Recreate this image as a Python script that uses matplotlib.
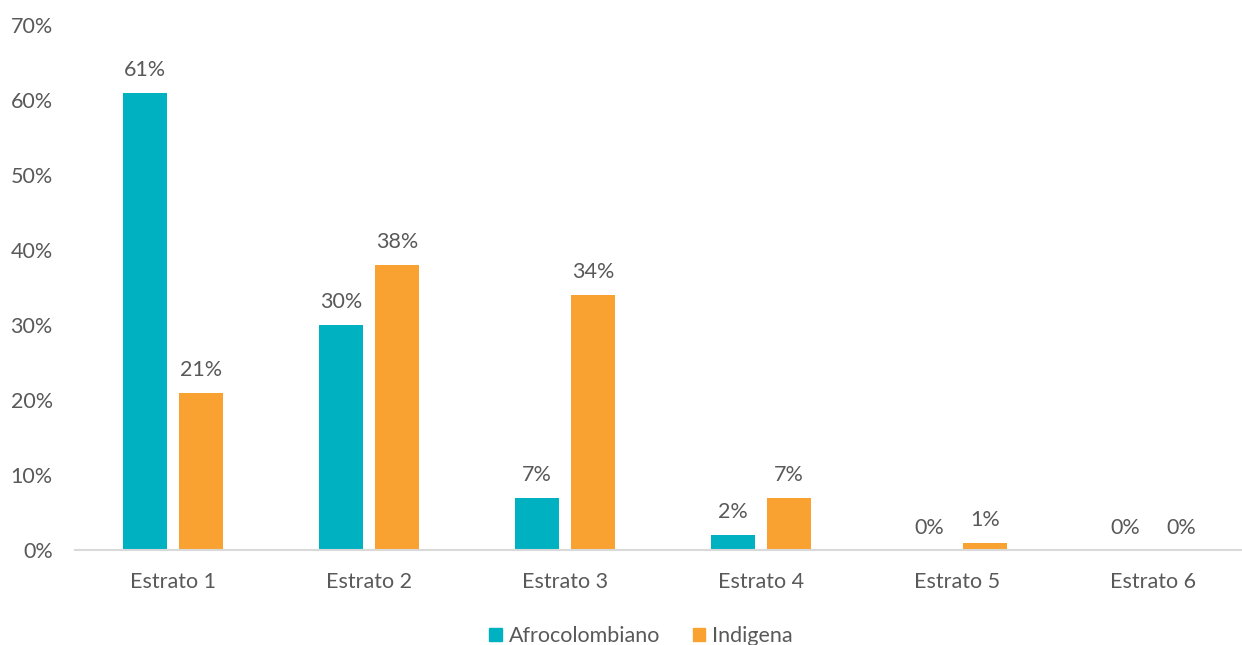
import numpy as np
import matplotlib.pyplot as plt
from matplotlib.patches import Patch

estratos = ['Estrato 1', 'Estrato 2', 'Estrato 3', 'Estrato 4', 'Estrato 5', 'Estrato 6']
afro = [61, 30, 7, 2, 0, 0]
indigena = [21, 38, 34, 7, 1, 0]
series_names = ['Afrocolombiano', 'Indigena']

color_afro = '#00B1C1'
color_ind = '#F9A131'
gris = '#595959'
tam = 15.5

plt.rcParams['font.family'] = ['Lato', 'DejaVu Sans']

fig = plt.figure(figsize=(12.42, 6.45), dpi=100)
ax = fig.add_axes([75 / 1242, 1 - 550 / 645, 1 - 75 / 1242, 525 / 645])

x = np.arange(len(estratos))
ancho = 0.224
desp = 0.143
b1 = ax.bar(x - desp, afro, ancho, color=color_afro)
b2 = ax.bar(x + desp, indigena, ancho, color=color_ind)

for barras, vals in ((b1, afro), (b2, indigena)):
    for b, v in zip(barras, vals):
        ax.annotate(f'{v}%', (b.get_x() + b.get_width() / 2, v),
                    xytext=(0, 9), textcoords='offset points',
                    ha='center', va='bottom', fontsize=tam, color=gris)

ax.set_ylim(0, 70)
ax.set_xlim(-0.5, 5.5 - 9 / 196)
ax.set_yticks(range(0, 71, 10))
ax.set_yticklabels([f'{t}%' for t in range(0, 71, 10)])
ax.set_xticks(x)
ax.set_xticklabels(estratos)
ax.tick_params(axis='both', length=0, labelsize=tam, labelcolor=gris)
ax.tick_params(axis='y', pad=16)
ax.tick_params(axis='x', pad=16)
for s in ['top', 'right', 'left']:
    ax.spines[s].set_visible(False)
ax.spines['bottom'].set_color('#D9D9D9')
ax.spines['bottom'].set_linewidth(1.5)

handles = [Patch(color=color_afro), Patch(color=color_ind)]
fig.legend(handles, series_names, loc='center', bbox_to_anchor=(641 / 1242, 1 - 636 / 645),
           ncol=2, frameon=False, fontsize=tam, labelcolor=gris,
           handlelength=0.6, handleheight=0.6, handletextpad=0.3, columnspacing=1.5)

fig.savefig('out.png', dpi=100)
